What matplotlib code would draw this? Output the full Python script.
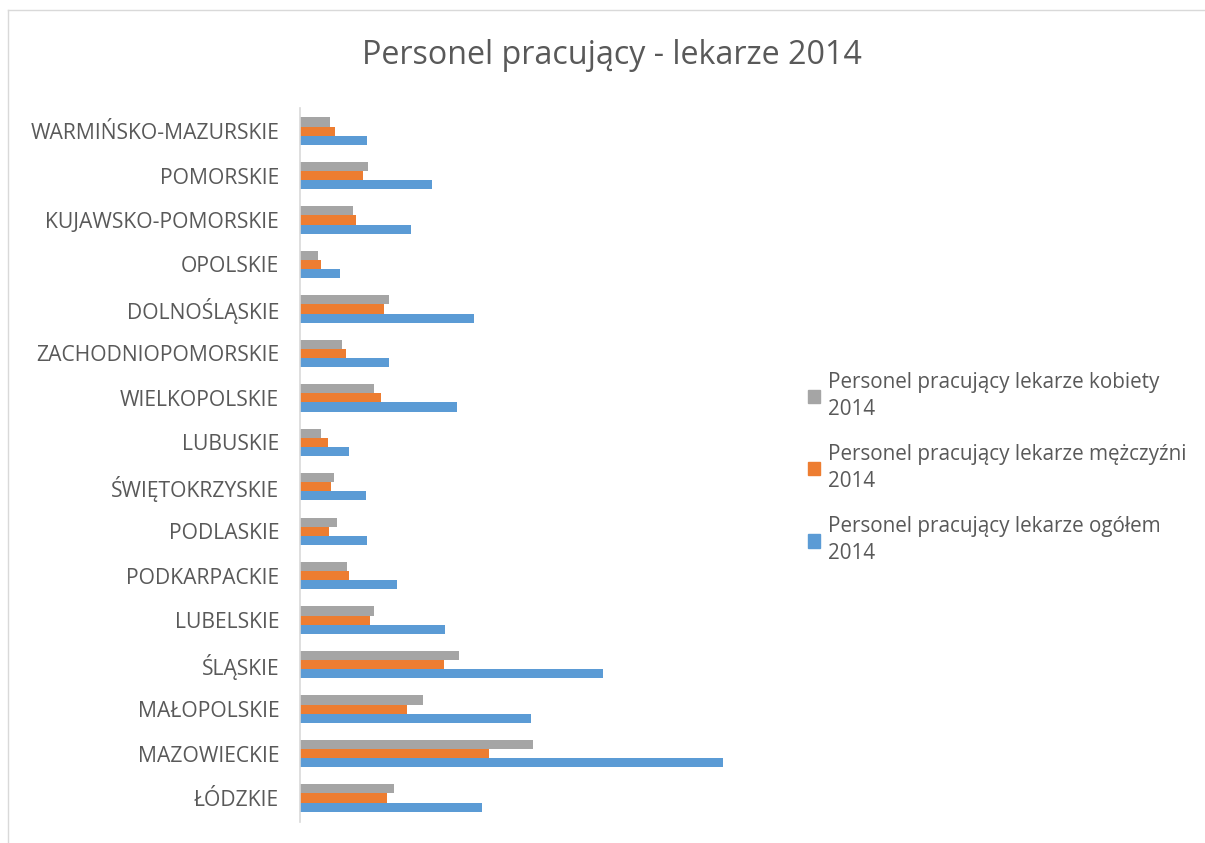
import matplotlib.pyplot as plt
from matplotlib.patches import Patch
from matplotlib.lines import Line2D

plt.rcParams['font.family'] = ['Open Sans', 'DejaVu Sans']

# województwa, od dołu wykresu do góry
regiony = ['ŁÓDZKIE', 'MAZOWIECKIE', 'MAŁOPOLSKIE', 'ŚLĄSKIE', 'LUBELSKIE',
           'PODKARPACKIE', 'PODLASKIE', 'ŚWIĘTOKRZYSKIE', 'LUBUSKIE',
           'WIELKOPOLSKIE', 'ZACHODNIOPOMORSKIE', 'DOLNOŚLĄSKIE', 'OPOLSKIE',
           'KUJAWSKO-POMORSKIE', 'POMORSKIE', 'WARMIŃSKO-MAZURSKIE']
kobiety = [3760, 9320, 4920, 6360, 2960, 1880, 1480, 1360, 840, 2960, 1680, 3560, 720, 2120, 2720, 1200]
mezczyzni = [3480, 7560, 4280, 5760, 2800, 1960, 1160, 1240, 1120, 3240, 1840, 3360, 840, 2240, 2520, 1400]
ogolem = [7280, 16920, 9240, 12120, 5800, 3880, 2680, 2640, 1960, 6280, 3560, 6960, 1600, 4440, 5280, 2680]

c_k = '#a5a5a5'
c_m = '#ed7d31'
c_o = '#5b9bd5'
txt = '#595959'

fig = plt.figure(figsize=(12.05, 8.43), dpi=100)
ax = fig.add_axes([300/1205, 21/843, 480/1205, 714/843])

y = list(range(len(regiony)))
h = 0.205
ax.barh([v + h for v in y], kobiety, height=h, color=c_k)
ax.barh(y, mezczyzni, height=h, color=c_m)
ax.barh([v - h for v in y], ogolem, height=h, color=c_o)

ax.set_xlim(0, 19200)
ax.set_ylim(-0.54, 15.52)
ax.set_yticks(y)
ax.set_yticklabels(regiony, fontsize=15.2, color=txt)
ax.tick_params(axis='y', length=0, pad=15)
ax.set_xticks([])
for s in ['top', 'right', 'bottom']:
    ax.spines[s].set_visible(False)
ax.spines['left'].set_color('#d9d9d9')
ax.spines['left'].set_linewidth(1.2)

fig.text(612/1205, 1 - 55/843, 'Personel pracujący - lekarze 2014',
         ha='center', va='center', fontsize=23.2, color=txt)

handles = [Patch(color=c_k), Patch(color=c_m), Patch(color=c_o)]
labels = ['Personel pracujący lekarze kobiety\n2014',
          'Personel pracujący lekarze mężczyźni\n2014',
          'Personel pracujący lekarze ogółem\n2014']
leg = fig.legend(handles, labels, loc='upper left', bbox_to_anchor=(789/1205, 1 - 353/843),
                 frameon=False, fontsize=14.9, labelcolor=txt, handlelength=0.62,
                 handleheight=0.62, handletextpad=0.35, labelspacing=1.15)
for t in leg.get_texts():
    t.set_linespacing(1.4)

# ramka wykresu
fig.add_artist(Line2D([8/1205, 1], [1 - 10/843, 1 - 10/843], transform=fig.transFigure,
                      color='#d9d9d9', lw=1))
fig.add_artist(Line2D([8/1205, 8/1205], [0, 1 - 10/843], transform=fig.transFigure,
                      color='#d9d9d9', lw=1))

plt.savefig('out.png')
